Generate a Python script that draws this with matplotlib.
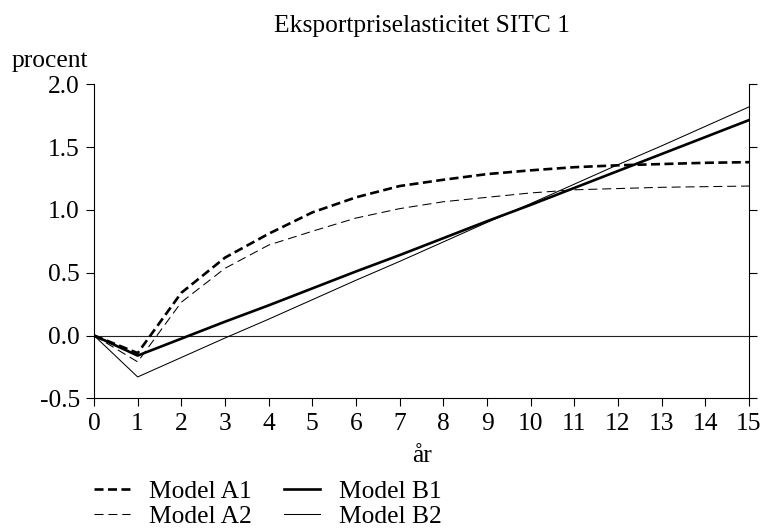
import numpy as np
import matplotlib
matplotlib.use('Agg')
import matplotlib.pyplot as plt

plt.rcParams['font.family'] = ['Liberation Serif', 'DejaVu Serif']
plt.rcParams['axes.unicode_minus'] = False
plt.rcParams['lines.scale_dashes'] = False

# data (aar 0..15)
years = list(range(16))
model_a1 = [0.00, -0.14, 0.34, 0.62, 0.81, 0.98, 1.10, 1.19, 1.24, 1.285, 1.315, 1.34, 1.355, 1.365, 1.375, 1.38]
model_a2 = [0.00, -0.21, 0.265, 0.535, 0.72, 0.83, 0.935, 1.01, 1.065, 1.10, 1.135, 1.16, 1.17, 1.18, 1.185, 1.19]
model_b1 = [0.00, -0.16, -0.025, 0.11, 0.24, 0.375, 0.51, 0.64, 0.775, 0.91, 1.04, 1.175, 1.31, 1.445, 1.58, 1.715]
model_b2 = [0.00, -0.33, -0.175, -0.02, 0.13, 0.285, 0.44, 0.59, 0.745, 0.90, 1.05, 1.205, 1.36, 1.51, 1.665, 1.82]
yticks = [-0.5, 0.0, 0.5, 1.0, 1.5, 2.0]

fs = 18.4
fig = plt.figure(figsize=(7.62, 5.28), dpi=100)
ax = fig.add_axes([94/762, 1-398.3/528, 655/762, 314/528])

ax.axhline(0, color='#222222', lw=0.8, zorder=1)
ax.plot(years, model_a1, color='black', lw=1.9, dashes=(6.5, 3.2), label='Model A1')
ax.plot(years, model_a2, color='black', lw=0.75, dashes=(6.5, 3.5), label='Model A2')
ax.plot(years, model_b1, color='black', lw=1.9, label='Model B1')
ax.plot(years, model_b2, color='black', lw=0.75, label='Model B2')

ax.set_xlim(0, 15)
ax.set_ylim(-0.5, 2.0)
ax.set_xticks(years)
ax.set_yticks(yticks)
ax.set_yticklabels(['%.1f' % v for v in yticks])
ax.spines['top'].set_visible(False)
for s in ['left', 'right', 'bottom']:
    ax.spines[s].set_linewidth(0.8)
ax.tick_params(axis='both', direction='out', length=5.8, width=0.8, labelsize=fs)
ax.tick_params(axis='y', right=True, pad=4.3)
ax.tick_params(axis='x', pad=4.5)

fig.text(421.5/762, 1-32.3/528, 'Eksportpriselasticitet SITC 1', ha='center', va='baseline', fontsize=fs)
fig.text(11.7/762, 1-66.7/528, 'procent', ha='left', va='baseline', fontsize=fs)
fig.text(422/762, 1-461.5/528, 'år', ha='center', va='baseline', fontsize=fs)

h, l = ax.get_legend_handles_labels()
fig.legend(h, l, ncol=2, loc='upper left', bbox_to_anchor=(94/762, 1-480/528),
           frameon=False, fontsize=fs, handlelength=1.41, handletextpad=0.75,
           columnspacing=1.25, labelspacing=0.09, borderpad=0, borderaxespad=0)

fig.savefig('out.png', dpi=100)
